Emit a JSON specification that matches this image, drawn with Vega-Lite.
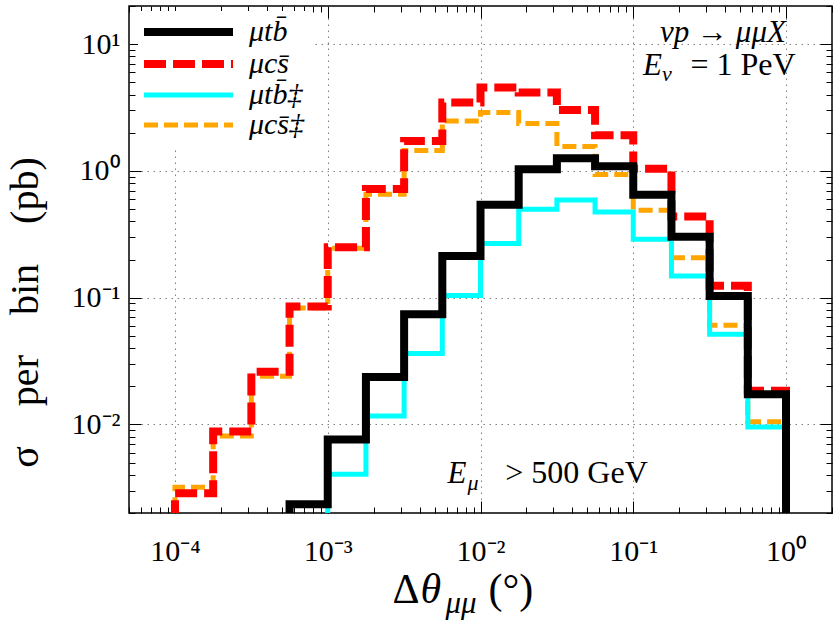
{
  "$schema": "https://vega.github.io/schema/vega-lite/v6.json",
  "width": 703,
  "height": 507,
  "autosize": {"type": "none"},
  "padding": {"left": 129, "top": 6, "right": 8, "bottom": 114},
  "background": "white",
  "config": {
    "view": {"stroke": "black", "strokeWidth": 1.5},
    "font": "Liberation Serif"
  },
  "datasets": {
    "hist": [
      {"series": "μcs̄", "k": 0, "dtheta": 0.0001, "sigma": 0.001},
      {"series": "μcs̄", "k": 1, "dtheta": 0.0001, "sigma": 0.00286},
      {"series": "μcs̄", "k": 2, "dtheta": 0.000177828, "sigma": 0.0088},
      {"series": "μcs̄", "k": 3, "dtheta": 0.000316228, "sigma": 0.026},
      {"series": "μcs̄", "k": 4, "dtheta": 0.000562341, "sigma": 0.085},
      {"series": "μcs̄", "k": 5, "dtheta": 0.001, "sigma": 0.25},
      {"series": "μcs̄", "k": 6, "dtheta": 0.00177828, "sigma": 0.72},
      {"series": "μcs̄", "k": 7, "dtheta": 0.00316228, "sigma": 1.72},
      {"series": "μcs̄", "k": 8, "dtheta": 0.00562341, "sigma": 3.47},
      {"series": "μcs̄", "k": 9, "dtheta": 0.01, "sigma": 4.55},
      {"series": "μcs̄", "k": 10, "dtheta": 0.0177828, "sigma": 4.16},
      {"series": "μcs̄", "k": 11, "dtheta": 0.0316228, "sigma": 3.03},
      {"series": "μcs̄", "k": 12, "dtheta": 0.0562341, "sigma": 1.91},
      {"series": "μcs̄", "k": 13, "dtheta": 0.1, "sigma": 1.04},
      {"series": "μcs̄", "k": 14, "dtheta": 0.177828, "sigma": 0.436},
      {"series": "μcs̄", "k": 15, "dtheta": 0.316228, "sigma": 0.124},
      {"series": "μcs̄", "k": 16, "dtheta": 0.562341, "sigma": 0.0184},
      {"series": "μcs̄", "k": 17, "dtheta": 1, "sigma": 0.0184},
      {"series": "μcs̄", "k": 18, "dtheta": 1, "sigma": 0.001},

      {"series": "μcs̄‡", "k": 0, "dtheta": 0.0001, "sigma": 0.001},
      {"series": "μcs̄‡", "k": 1, "dtheta": 0.0001, "sigma": 0.0032},
      {"series": "μcs̄‡", "k": 2, "dtheta": 0.000177828, "sigma": 0.0081},
      {"series": "μcs̄‡", "k": 3, "dtheta": 0.000316228, "sigma": 0.024},
      {"series": "μcs̄‡", "k": 4, "dtheta": 0.000562341, "sigma": 0.083},
      {"series": "μcs̄‡", "k": 5, "dtheta": 0.001, "sigma": 0.245},
      {"series": "μcs̄‡", "k": 6, "dtheta": 0.00177828, "sigma": 0.655},
      {"series": "μcs̄‡", "k": 7, "dtheta": 0.00316228, "sigma": 1.45},
      {"series": "μcs̄‡", "k": 8, "dtheta": 0.00562341, "sigma": 2.48},
      {"series": "μcs̄‡", "k": 9, "dtheta": 0.01, "sigma": 2.89},
      {"series": "μcs̄‡", "k": 10, "dtheta": 0.0177828, "sigma": 2.37},
      {"series": "μcs̄‡", "k": 11, "dtheta": 0.0316228, "sigma": 1.56},
      {"series": "μcs̄‡", "k": 12, "dtheta": 0.0562341, "sigma": 0.936},
      {"series": "μcs̄‡", "k": 13, "dtheta": 0.1, "sigma": 0.49},
      {"series": "μcs̄‡", "k": 14, "dtheta": 0.177828, "sigma": 0.206},
      {"series": "μcs̄‡", "k": 15, "dtheta": 0.316228, "sigma": 0.0605},
      {"series": "μcs̄‡", "k": 16, "dtheta": 0.562341, "sigma": 0.0105},
      {"series": "μcs̄‡", "k": 17, "dtheta": 1, "sigma": 0.0105},
      {"series": "μcs̄‡", "k": 18, "dtheta": 1, "sigma": 0.001},

      {"series": "μtb̄", "k": 0, "dtheta": 0.000562341, "sigma": 0.001},
      {"series": "μtb̄", "k": 1, "dtheta": 0.000562341, "sigma": 0.00234},
      {"series": "μtb̄", "k": 2, "dtheta": 0.001, "sigma": 0.0076},
      {"series": "μtb̄", "k": 3, "dtheta": 0.00177828, "sigma": 0.0237},
      {"series": "μtb̄", "k": 4, "dtheta": 0.00316228, "sigma": 0.074},
      {"series": "μtb̄", "k": 5, "dtheta": 0.00562341, "sigma": 0.213},
      {"series": "μtb̄", "k": 6, "dtheta": 0.01, "sigma": 0.54},
      {"series": "μtb̄", "k": 7, "dtheta": 0.0177828, "sigma": 1.03},
      {"series": "μtb̄", "k": 8, "dtheta": 0.0316228, "sigma": 1.26},
      {"series": "μtb̄", "k": 9, "dtheta": 0.0562341, "sigma": 1.09},
      {"series": "μtb̄", "k": 10, "dtheta": 0.1, "sigma": 0.647},
      {"series": "μtb̄", "k": 11, "dtheta": 0.177828, "sigma": 0.303},
      {"series": "μtb̄", "k": 12, "dtheta": 0.316228, "sigma": 0.103},
      {"series": "μtb̄", "k": 13, "dtheta": 0.562341, "sigma": 0.0173},
      {"series": "μtb̄", "k": 14, "dtheta": 1, "sigma": 0.0173},
      {"series": "μtb̄", "k": 15, "dtheta": 1, "sigma": 0.001},

      {"series": "μtb̄‡", "k": 0, "dtheta": 0.001, "sigma": 0.001},
      {"series": "μtb̄‡", "k": 1, "dtheta": 0.001, "sigma": 0.00404},
      {"series": "μtb̄‡", "k": 2, "dtheta": 0.00177828, "sigma": 0.01165},
      {"series": "μtb̄‡", "k": 3, "dtheta": 0.00316228, "sigma": 0.0362},
      {"series": "μtb̄‡", "k": 4, "dtheta": 0.00562341, "sigma": 0.104},
      {"series": "μtb̄‡", "k": 5, "dtheta": 0.01, "sigma": 0.267},
      {"series": "μtb̄‡", "k": 6, "dtheta": 0.0177828, "sigma": 0.499},
      {"series": "μtb̄‡", "k": 7, "dtheta": 0.0316228, "sigma": 0.59},
      {"series": "μtb̄‡", "k": 8, "dtheta": 0.0562341, "sigma": 0.475},
      {"series": "μtb̄‡", "k": 9, "dtheta": 0.1, "sigma": 0.289},
      {"series": "μtb̄‡", "k": 10, "dtheta": 0.177828, "sigma": 0.148},
      {"series": "μtb̄‡", "k": 11, "dtheta": 0.316228, "sigma": 0.0514},
      {"series": "μtb̄‡", "k": 12, "dtheta": 0.562341, "sigma": 0.00953},
      {"series": "μtb̄‡", "k": 13, "dtheta": 1, "sigma": 0.00953},
      {"series": "μtb̄‡", "k": 14, "dtheta": 1, "sigma": 0.001}
    ]
  },
  "layer": [
    {
      "data": {"name": "hist"},
      "transform": [{"filter": "datum.series === 'μcs̄‡'"}],
      "mark": {"type": "line", "interpolate": "step-after", "clip": true, "strokeCap": "butt", "strokeJoin": "miter"},
      "encoding": {
        "x": {
          "field": "dtheta", "type": "quantitative",
          "scale": {"type": "log", "domain": [0.00005, 2], "nice": false},
          "axis": {
            "orient": "bottom", "title": null, "domain": false,
            "values": [0.00005,0.00006,0.00007,0.00008,0.00009,0.0001,0.0002,0.0003,0.0004,0.0005,0.0006,0.0007,0.0008,0.0009,0.001,0.002,0.003,0.004,0.005,0.006,0.007,0.008,0.009,0.01,0.02,0.03,0.04,0.05,0.06,0.07,0.08,0.09,0.1,0.2,0.3,0.4,0.5,0.6,0.7,0.8,0.9,1,2],
            "labelExpr": "abs(log(datum.value)/LN10 - round(log(datum.value)/LN10)) < 0.001 ? '10' + (round(log(datum.value)/LN10) < 0 ? '⁻' : '') + ['⁰','¹','²','³','⁴','⁵'][abs(round(log(datum.value)/LN10))] : ''",
            "labelFont": "Liberation Serif", "labelFontSize": 30, "labelColor": "black",
            "labelBaseline": "alphabetic", "labelPadding": 59, "labelOverlap": false, "labelFlush": false,
            "tickColor": "black", "tickWidth": 1,
            "tickSize": {"condition": {"test": "abs(log(datum.value)/LN10 - round(log(datum.value)/LN10)) < 0.001", "value": -12}, "value": -6},
            "grid": true, "gridColor": "#808080", "gridDash": [1.5, 4.5], "gridWidth": 1,
            "gridOpacity": {"condition": {"test": "abs(log(datum.value)/LN10 - round(log(datum.value)/LN10)) < 0.001", "value": 1}, "value": 0}
          }
        },
        "y": {
          "field": "sigma", "type": "quantitative",
          "scale": {"type": "log", "domain": [0.002, 20], "nice": false},
          "axis": {
            "orient": "left", "domain": false,
            "values": [0.002,0.003,0.004,0.005,0.006,0.007,0.008,0.009,0.01,0.02,0.03,0.04,0.05,0.06,0.07,0.08,0.09,0.1,0.2,0.3,0.4,0.5,0.6,0.7,0.8,0.9,1,2,3,4,5,6,7,8,9,10,20],
            "labelExpr": "abs(log(datum.value)/LN10 - round(log(datum.value)/LN10)) < 0.001 ? '10' + (round(log(datum.value)/LN10) < 0 ? '⁻' : '') + ['⁰','¹','²','³','⁴','⁵'][abs(round(log(datum.value)/LN10))] : ''",
            "labelFont": "Liberation Serif", "labelFontSize": 30, "labelColor": "black",
            "labelBaseline": "middle", "labelAlign": "right", "labelPadding": 21, "labelOverlap": false, "labelFlush": false,
            "tickColor": "black", "tickWidth": 1,
            "tickSize": {"condition": {"test": "abs(log(datum.value)/LN10 - round(log(datum.value)/LN10)) < 0.001", "value": -12}, "value": -6},
            "grid": true, "gridColor": "#808080", "gridDash": [1.5, 4.5], "gridWidth": 1,
            "gridOpacity": {"condition": {"test": "abs(log(datum.value)/LN10 - round(log(datum.value)/LN10)) < 0.001", "value": 1}, "value": 0},
            "title": "σ\u2003per\u2003bin\u2003(pb)",
            "titleFont": "Liberation Serif", "titleFontSize": 40, "titleFontWeight": "normal", "titleColor": "black",
            "titleAngle": -90, "titleX": -92, "titleY": 306, "titleAlign": "center", "titleBaseline": "alphabetic"
          }
        },
        "order": {"field": "k", "type": "quantitative"},
        "color": {
          "field": "series", "type": "nominal",
          "scale": {"domain": ["μtb̄", "μcs̄", "μtb̄‡", "μcs̄‡"], "range": ["#000000", "#ff0000", "#00ffff", "#ffa500"]},
          "legend": {
            "title": null, "orient": "none", "legendX": 9, "legendY": 5,
            "fillColor": "white", "padding": 6,
            "symbolType": "M-3,0H14.8", "symbolSize": 100,
            "labelFont": "Liberation Serif", "labelFontSize": 30, "labelFontStyle": "italic", "labelColor": "black",
            "labelExpr": "datum.label + '\u2003\u2003\u2002'",
            "labelOffset": 75, "rowPadding": 0, "labelLimit": 400
          }
        },
        "strokeDash": {
          "field": "series", "type": "nominal",
          "scale": {"domain": ["μtb̄", "μcs̄", "μtb̄‡", "μcs̄‡"], "range": [[1, 0], [22, 7], [1, 0], [14, 6]]}
        },
        "strokeWidth": {
          "field": "series", "type": "nominal",
          "scale": {"type": "ordinal", "domain": ["μtb̄", "μcs̄", "μtb̄‡", "μcs̄‡"], "range": [8, 8, 5, 5]}
        }
      }
    },
    {
      "data": {"name": "hist"},
      "transform": [{"filter": "datum.series === 'μtb̄‡'"}],
      "mark": {"type": "line", "interpolate": "step-after", "clip": true, "strokeCap": "butt", "strokeJoin": "miter"},
      "encoding": {
        "x": {"field": "dtheta", "type": "quantitative", "axis": null},
        "y": {"field": "sigma", "type": "quantitative", "axis": null},
        "order": {"field": "k", "type": "quantitative"},
        "color": {"field": "series", "type": "nominal", "scale": {"domain": ["μtb̄", "μcs̄", "μtb̄‡", "μcs̄‡"], "range": ["#000000", "#ff0000", "#00ffff", "#ffa500"]}},
        "strokeDash": {"field": "series", "type": "nominal", "scale": {"domain": ["μtb̄", "μcs̄", "μtb̄‡", "μcs̄‡"], "range": [[1, 0], [22, 7], [1, 0], [14, 6]]}},
        "strokeWidth": {"field": "series", "type": "nominal", "scale": {"type": "ordinal", "domain": ["μtb̄", "μcs̄", "μtb̄‡", "μcs̄‡"], "range": [8, 8, 5, 5]}}
      }
    },
    {
      "data": {"name": "hist"},
      "transform": [{"filter": "datum.series === 'μcs̄'"}],
      "mark": {"type": "line", "interpolate": "step-after", "clip": true, "strokeCap": "butt", "strokeJoin": "miter"},
      "encoding": {
        "x": {"field": "dtheta", "type": "quantitative", "axis": null},
        "y": {"field": "sigma", "type": "quantitative", "axis": null},
        "order": {"field": "k", "type": "quantitative"},
        "color": {"field": "series", "type": "nominal", "scale": {"domain": ["μtb̄", "μcs̄", "μtb̄‡", "μcs̄‡"], "range": ["#000000", "#ff0000", "#00ffff", "#ffa500"]}},
        "strokeDash": {"field": "series", "type": "nominal", "scale": {"domain": ["μtb̄", "μcs̄", "μtb̄‡", "μcs̄‡"], "range": [[1, 0], [22, 7], [1, 0], [14, 6]]}},
        "strokeWidth": {"field": "series", "type": "nominal", "scale": {"type": "ordinal", "domain": ["μtb̄", "μcs̄", "μtb̄‡", "μcs̄‡"], "range": [8, 8, 5, 5]}}
      }
    },
    {
      "data": {"name": "hist"},
      "transform": [{"filter": "datum.series === 'μtb̄'"}],
      "mark": {"type": "line", "interpolate": "step-after", "clip": true, "strokeCap": "butt", "strokeJoin": "miter"},
      "encoding": {
        "x": {
          "field": "dtheta", "type": "quantitative",
          "axis": {
            "orient": "top", "title": null, "domain": false, "labels": false, "grid": false,
            "values": [0.00005,0.00006,0.00007,0.00008,0.00009,0.0001,0.0002,0.0003,0.0004,0.0005,0.0006,0.0007,0.0008,0.0009,0.001,0.002,0.003,0.004,0.005,0.006,0.007,0.008,0.009,0.01,0.02,0.03,0.04,0.05,0.06,0.07,0.08,0.09,0.1,0.2,0.3,0.4,0.5,0.6,0.7,0.8,0.9,1,2],
            "tickColor": "black", "tickWidth": 1,
            "tickSize": {"condition": {"test": "abs(log(datum.value)/LN10 - round(log(datum.value)/LN10)) < 0.001", "value": -12}, "value": -6}
          }
        },
        "y": {
          "field": "sigma", "type": "quantitative",
          "axis": {
            "orient": "right", "title": null, "domain": false, "labels": false, "grid": false,
            "values": [0.002,0.003,0.004,0.005,0.006,0.007,0.008,0.009,0.01,0.02,0.03,0.04,0.05,0.06,0.07,0.08,0.09,0.1,0.2,0.3,0.4,0.5,0.6,0.7,0.8,0.9,1,2,3,4,5,6,7,8,9,10,20],
            "tickColor": "black", "tickWidth": 1,
            "tickSize": {"condition": {"test": "abs(log(datum.value)/LN10 - round(log(datum.value)/LN10)) < 0.001", "value": -12}, "value": -6}
          }
        },
        "order": {"field": "k", "type": "quantitative"},
        "color": {"field": "series", "type": "nominal", "scale": {"domain": ["μtb̄", "μcs̄", "μtb̄‡", "μcs̄‡"], "range": ["#000000", "#ff0000", "#00ffff", "#ffa500"]}},
        "strokeDash": {"field": "series", "type": "nominal", "scale": {"domain": ["μtb̄", "μcs̄", "μtb̄‡", "μcs̄‡"], "range": [[1, 0], [22, 7], [1, 0], [14, 6]]}},
        "strokeWidth": {"field": "series", "type": "nominal", "scale": {"type": "ordinal", "domain": ["μtb̄", "μcs̄", "μtb̄‡", "μcs̄‡"], "range": [8, 8, 5, 5]}}
      }
    },
    {
      "data": {"values": [{}]},
      "mark": {"type": "text", "font": "Liberation Serif", "fontSize": 31, "fontStyle": "italic", "align": "center", "baseline": "alphabetic", "dx": -63, "dy": -2, "color": "black"},
      "encoding": {"x": {"datum": 1, "type": "quantitative", "axis": null}, "y": {"datum": 10, "type": "quantitative", "axis": null}, "text": {"value": "νp → μμX"}}
    },
    {
      "data": {"values": [{}]},
      "mark": {"type": "text", "font": "Liberation Serif", "fontSize": 31, "fontStyle": "italic", "align": "left", "baseline": "alphabetic", "dx": -143, "dy": 31, "color": "black"},
      "encoding": {"x": {"datum": 1, "type": "quantitative", "axis": null}, "y": {"datum": 10, "type": "quantitative", "axis": null}, "text": {"value": "E"}}
    },
    {
      "data": {"values": [{}]},
      "mark": {"type": "text", "font": "Liberation Serif", "fontSize": 22, "fontStyle": "italic", "align": "left", "baseline": "alphabetic", "dx": -124, "dy": 37, "color": "black"},
      "encoding": {"x": {"datum": 1, "type": "quantitative", "axis": null}, "y": {"datum": 10, "type": "quantitative", "axis": null}, "text": {"value": "ν"}}
    },
    {
      "data": {"values": [{}]},
      "mark": {"type": "text", "font": "Liberation Serif", "fontSize": 32, "align": "center", "baseline": "alphabetic", "dx": -43, "dy": 31, "color": "black"},
      "encoding": {"x": {"datum": 1, "type": "quantitative", "axis": null}, "y": {"datum": 10, "type": "quantitative", "axis": null}, "text": {"value": "= 1 PeV"}}
    },
    {
      "data": {"values": [{}]},
      "mark": {"type": "text", "font": "Liberation Serif", "fontSize": 31, "fontStyle": "italic", "align": "left", "baseline": "alphabetic", "dx": -33, "dy": 59, "color": "black"},
      "encoding": {"x": {"datum": 0.01, "type": "quantitative", "axis": null}, "y": {"datum": 0.01, "type": "quantitative", "axis": null}, "text": {"value": "E"}}
    },
    {
      "data": {"values": [{}]},
      "mark": {"type": "text", "font": "Liberation Serif", "fontSize": 22, "fontStyle": "italic", "align": "left", "baseline": "alphabetic", "dx": -13, "dy": 66, "color": "black"},
      "encoding": {"x": {"datum": 0.01, "type": "quantitative", "axis": null}, "y": {"datum": 0.01, "type": "quantitative", "axis": null}, "text": {"value": "μ"}}
    },
    {
      "data": {"values": [{}]},
      "mark": {"type": "text", "font": "Liberation Serif", "fontSize": 32, "align": "center", "baseline": "alphabetic", "dx": 96, "dy": 59, "color": "black"},
      "encoding": {"x": {"datum": 0.01, "type": "quantitative", "axis": null}, "y": {"datum": 0.01, "type": "quantitative", "axis": null}, "text": {"value": "> 500 GeV"}}
    },
    {
      "data": {"values": [{}]},
      "mark": {"type": "text", "font": "Liberation Serif", "fontSize": 42, "align": "left", "baseline": "alphabetic", "dx": -88, "dy": 1, "color": "black"},
      "encoding": {"x": {"datum": 0.01, "type": "quantitative", "axis": null}, "y": {"datum": 0.0004, "type": "quantitative", "axis": null}, "text": {"value": "Δ"}}
    },
    {
      "data": {"values": [{}]},
      "mark": {"type": "text", "font": "Liberation Serif", "fontSize": 42, "fontStyle": "italic", "align": "left", "baseline": "alphabetic", "dx": -60, "dy": 1, "color": "black"},
      "encoding": {"x": {"datum": 0.01, "type": "quantitative", "axis": null}, "y": {"datum": 0.0004, "type": "quantitative", "axis": null}, "text": {"value": "θ"}}
    },
    {
      "data": {"values": [{}]},
      "mark": {"type": "text", "font": "Liberation Serif", "fontSize": 31, "fontStyle": "italic", "align": "left", "baseline": "alphabetic", "dx": -35, "dy": 11, "color": "black"},
      "encoding": {"x": {"datum": 0.01, "type": "quantitative", "axis": null}, "y": {"datum": 0.0004, "type": "quantitative", "axis": null}, "text": {"value": "μμ"}}
    },
    {
      "data": {"values": [{}]},
      "mark": {"type": "text", "font": "Liberation Serif", "fontSize": 42, "align": "left", "baseline": "alphabetic", "dx": 8, "dy": 1, "color": "black"},
      "encoding": {"x": {"datum": 0.01, "type": "quantitative", "axis": null}, "y": {"datum": 0.0004, "type": "quantitative", "axis": null}, "text": {"value": "(°)"}}
    }
  ],
  "resolve": {"axis": {"x": "independent", "y": "independent"}}
}
